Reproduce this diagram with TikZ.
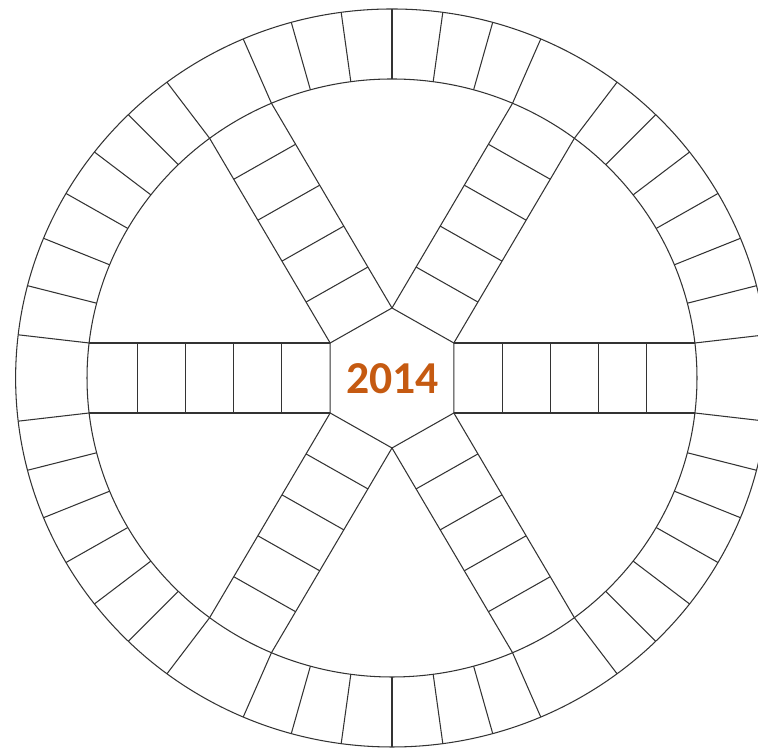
\documentclass[tikz,border=0pt]{standalone}
\usepackage{fontspec}
\newfontfamily\numfont{Carlito}
\definecolor{yearorange}{HTML}{C55A11}
\begin{document}
\begin{tikzpicture}[x=0.02cm,y=0.02cm,
  board/.style={draw=black!80, line width=0.6pt, line join=round}]
\useasboundingbox (0,0) rectangle (758,749);
\clip (0,0) rectangle (758,749);
\pgfmathsetmacro\Ro{369}
\pgfmathsetmacro\Ri{299}
\pgfmathsetmacro\Rh{70}
\pgfmathsetmacro\ap{\Rh*cos(30)}
\pgfmathsetmacro\hw{\Rh/2}
\pgfmathsetmacro\d{asin(\hw/\Ri)}
\pgfmathsetmacro\e{\Ri*cos(\d)}
\pgfmathsetmacro\L{(\e-\ap)/5}
\begin{scope}[shift={(392,371)}, xscale=1.02]
  \draw[board] (0,0) circle[radius=\Ro];
  \draw[board] (0,0) circle[radius=\Ri];
  \draw[board] (30:\Rh) -- (90:\Rh) -- (150:\Rh) -- (210:\Rh) -- (270:\Rh) -- (330:\Rh) -- cycle;
  \foreach \t in {0,60,...,300}{
    \begin{scope}[rotate=\t]
      \draw[board] (\ap,\hw) -- (\e,\hw) (\ap,-\hw) -- (\e,-\hw);
      \foreach \k in {1,...,4}
        \draw[board] ({\ap+\k*\L},-\hw) -- ({\ap+\k*\L},\hw);
    \end{scope}
    \foreach \j in {0,...,6}{
      \pgfmathsetmacro\ang{\t+\d+\j*(60-2*\d)/6}
      \draw[board] (\ang:\Ri) -- (\ang:\Ro);
    }
  }
\end{scope}
\node[text=yearorange, inner sep=0pt, font=\numfont\bfseries\fontsize{26}{30}\selectfont] (year) at (392.5,370.5) {2014};
\end{tikzpicture}
\end{document}
